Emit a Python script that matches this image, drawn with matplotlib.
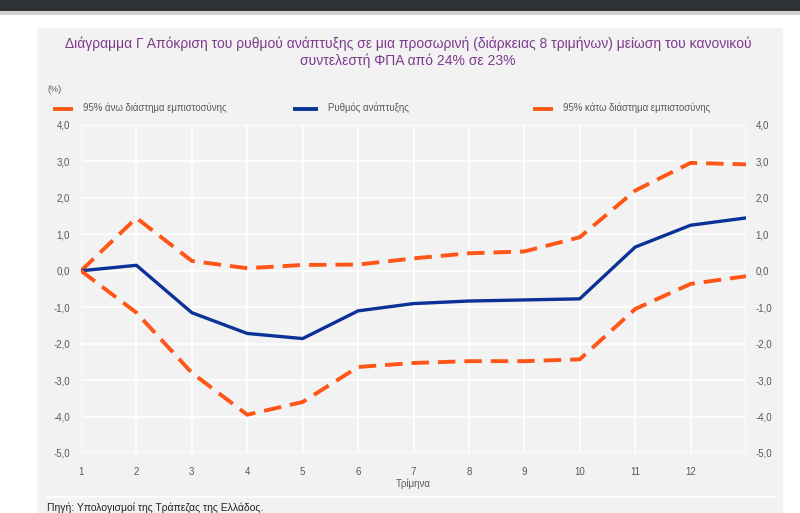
import matplotlib
matplotlib.use("Agg")
from matplotlib import pyplot as plt
from matplotlib.patches import Rectangle
from matplotlib.lines import Line2D

plt.rcParams['font.family'] = ['Liberation Sans Narrow', 'Liberation Sans', 'DejaVu Sans']

# quarters (13 points, only 1..12 labelled)
quarters = list(range(1, 14))
tick_quarters = list(range(1, 13))

growth = [0.0, 0.15, -1.15, -1.72, -1.86, -1.1, -0.9, -0.83, -0.8, -0.77, 0.65, 1.25, 1.45]
upper = [0.0, 1.45, 0.27, 0.07, 0.16, 0.17, 0.34, 0.48, 0.53, 0.92, 2.2, 2.96, 2.92]
lower = [0.0, -1.15, -2.8, -3.95, -3.6, -2.64, -2.53, -2.48, -2.48, -2.43, -1.05, -0.36, -0.15]

yticks = [4, 3, 2, 1, 0, -1, -2, -3, -4, -5]

title = ("Διάγραμμα Γ Απόκριση του ρυθμού ανάπτυξης σε μια προσωρινή (διάρκειας 8 τριμήνων) μείωση του κανονικού\n"
         "συντελεστή ΦΠΑ από 24% σε 23%")
lbl_upper = "95% άνω διάστημα εμπιστοσύνης"
lbl_growth = "Ρυθμός ανάπτυξης"
lbl_lower = "95% κάτω διάστημα εμπιστοσύνης"

orange = "#FF5516"
blue = "#0B3397"
grey = "#595959"
purple = "#7E3A8E"

W, H = 800, 513
fig = plt.figure(figsize=(8, 5.13), dpi=100)
fig.patch.set_facecolor("white")

def fx(px):
    return px / W

def fy(py):
    return 1 - py / H

# dark top bar and grey panel
fig.patches.append(Rectangle((0, fy(11)), 1, 11 / H, transform=fig.transFigure,
                             facecolor="#2F3234", edgecolor="none", zorder=-10))
fig.patches.append(Rectangle((0, fy(15)), 1, 4 / H, transform=fig.transFigure,
                             facecolor="#D0D0D0", edgecolor="none", zorder=-10))
fig.patches.append(Rectangle((fx(37), 0), fx(783 - 37), fy(28), transform=fig.transFigure,
                             facecolor="#F2F2F2", edgecolor="none", zorder=-10))

ax = fig.add_axes([fx(81), fy(453), fx(746 - 81), (453 - 125) / H])
ax.set_facecolor("#F2F2F2")
ax.plot(quarters, upper, color=orange, lw=2.8, dashes=(4.5, 2.3))
ax.plot(quarters, growth, color=blue, lw=2.4)
ax.plot(quarters, lower, color=orange, lw=2.8, dashes=(4.5, 2.3))

ax.set_xlim(1, 13)
ax.set_ylim(-5, 4)
ax.set_xticks(quarters)
ax.set_xticklabels([str(q) for q in tick_quarters] + [""])
ax.set_yticks(yticks)
ax.set_yticklabels([f"{v:.1f}".replace(".", ",") for v in yticks])
ax.grid(True, color="white", lw=1.2)
ax.set_axisbelow(True)
for s in ax.spines.values():
    s.set_visible(False)
ax.tick_params(length=0, labelsize=7, colors=grey, pad=8)
ax.tick_params(axis="x", pad=10)

ax2 = ax.twinx()
ax2.set_ylim(-5, 4)
ax2.set_yticks(yticks)
ax2.set_yticklabels([f"{v:.1f}".replace(".", ",") for v in yticks])
for s in ax2.spines.values():
    s.set_visible(False)
ax2.tick_params(length=0, labelsize=7, colors=grey, pad=7)

ax.set_xlabel("Τρίμηνα", fontsize=7, color=grey, labelpad=1)

fig.text(0.51, fy(52), title, ha="center", va="center", fontsize=10,
         color=purple, linespacing=1.2)
fig.text(fx(48), fy(90), "(%)", fontsize=6.5, color=grey, va="center")

# legend
leg_items = [(53, 73, lbl_upper, orange), (293, 318, lbl_growth, blue), (533, 553, lbl_lower, orange)]
for x0, x1, lbl, c in leg_items:
    fig.lines.append(Line2D([fx(x0), fx(x1)], [fy(109), fy(109)], transform=fig.transFigure,
                            color=c, lw=2.8, solid_capstyle="butt"))
    fig.text(fx(x1 + 10), fy(108), lbl, fontsize=6.9, color=grey, va="center")

fig.lines.append(Line2D([fx(47), fx(775)], [fy(497), fy(497)], transform=fig.transFigure,
                        color="white", lw=1.2))
fig.text(fx(47), fy(508), "Πηγή: Υπολογισμοί της Τράπεζας της Ελλάδος.", fontsize=7.5,
         color="#222222", va="center")

fig.savefig("out.png", dpi=100, facecolor=fig.get_facecolor())
